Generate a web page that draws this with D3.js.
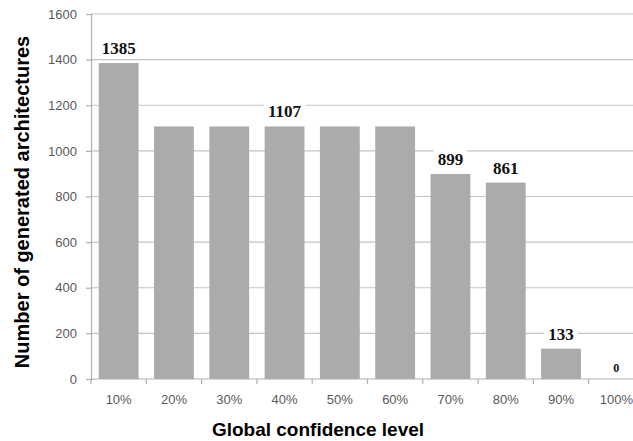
<!DOCTYPE html>
<html>
<head>
<meta charset="utf-8">
<script src="https://cdn.jsdelivr.net/npm/d3@7"></script>
<style>
  body { margin: 0; background: #fff; }
  svg { display: block; }
</style>
</head>
<body>
<svg id="chart" width="633" height="441"></svg>
<script>
// confidence levels and how many architectures came out of each
var levels = ["10%", "20%", "30%", "40%", "50%", "60%", "70%", "80%", "90%", "100%"];
var counts = [1385, 1107, 1107, 1107, 1107, 1107, 899, 861, 133, 0];
// only some bars carry a value label in the original
var labelled = ["10%", "40%", "70%", "80%", "90%", "100%"];
var yTicks = [0, 200, 400, 600, 800, 1000, 1200, 1400, 1600];

var svg = d3.select("#chart");
var plotL = 91, plotR = 644, plotT = 14, plotB = 379;

var x = d3.scaleBand().domain(levels).range([plotL, plotR]).paddingInner(0.28).paddingOuter(0.14);
var y = d3.scaleLinear().domain([0, 1600]).range([plotB, plotT]);

// gridlines
svg.append("g").selectAll("line").data(yTicks.slice(1)).enter().append("line")
	.attr("x1", plotL).attr("x2", plotR)
	.attr("y1", function (d) { return y(d); })
	.attr("y2", function (d) { return y(d); })
	.attr("stroke", "#c4c4c4").attr("stroke-width", 1.2);

// y axis
var yAxis = svg.append("g").attr("transform", "translate(" + plotL + ",0)")
	.call(d3.axisLeft(y).tickValues(yTicks).tickFormat(d3.format("d")).tickSize(5).tickPadding(9));
yAxis.select(".domain").attr("stroke", "#b0b0b0").attr("stroke-width", 1.2);
yAxis.selectAll(".tick line").attr("stroke", "#b0b0b0").attr("stroke-width", 1.2);
yAxis.selectAll("text").attr("fill", "#595959")
	.style("font-family", "'Liberation Sans', Arial, sans-serif").style("font-size", "13px");

// bars
svg.append("g").selectAll("rect").data(levels).enter().append("rect")
	.attr("x", function (d) { return x(d); })
	.attr("width", x.bandwidth())
	.attr("y", function (d, i) { return y(counts[i]); })
	.attr("height", function (d, i) { return plotB - y(counts[i]); })
	.attr("fill", "#ababab");

// x axis: ticks sit between the categories
var step = x.step();
var xAxis = svg.append("g");
xAxis.append("line").attr("x1", plotL).attr("x2", plotR).attr("y1", plotB).attr("y2", plotB)
	.attr("stroke", "#b0b0b0").attr("stroke-width", 1.2);
xAxis.selectAll("line.tk").data(d3.range(levels.length + 1)).enter().append("line")
	.attr("class", "tk")
	.attr("x1", function (i) { return plotL + i * step; })
	.attr("x2", function (i) { return plotL + i * step; })
	.attr("y1", plotB).attr("y2", plotB + 5)
	.attr("stroke", "#b0b0b0").attr("stroke-width", 1.2);
xAxis.selectAll("text").data(levels).enter().append("text")
	.attr("x", function (d) { return x(d) + x.bandwidth() / 2; })
	.attr("y", 404)
	.attr("text-anchor", "middle")
	.attr("fill", "#595959")
	.style("font-family", "'Liberation Sans', Arial, sans-serif").style("font-size", "13px")
	.text(function (d) { return d; });

// value labels with white backing so gridlines break around them
var lab = svg.append("g").selectAll("g").data(labelled).enter().append("g");
lab.each(function (d) {
	var i = levels.indexOf(d);
	var g = d3.select(this);
	var small = counts[i] === 0;
	var t = g.append("text")
		.attr("x", x(d) + x.bandwidth() / 2)
		.attr("y", small ? y(counts[i]) - 7 : y(counts[i]) - 9)
		.attr("text-anchor", "middle")
		.attr("fill", "#111")
		.style("font-family", "'Liberation Serif', 'Times New Roman', serif")
		.style("font-weight", "bold")
		.style("font-size", small ? "12px" : "17px")
		.text(counts[i]);
	var b = t.node().getBBox();
	g.insert("rect", "text")
		.attr("x", b.x - 4).attr("y", b.y)
		.attr("width", b.width + 8).attr("height", b.height)
		.attr("fill", "#fff");
});

// axis titles
svg.append("text")
	.attr("transform", "translate(29,202) rotate(-90)")
	.attr("text-anchor", "middle")
	.attr("fill", "#000")
	.style("font-family", "'Liberation Sans', Arial, sans-serif")
	.style("font-weight", "bold").style("font-size", "20px")
	.text("Number of generated architectures");

svg.append("text")
	.attr("x", 318).attr("y", 436)
	.attr("text-anchor", "middle")
	.attr("fill", "#000")
	.style("font-family", "'Liberation Sans', Arial, sans-serif")
	.style("font-weight", "bold").style("font-size", "19px")
	.text("Global confidence level");
</script>
</body>
</html>
